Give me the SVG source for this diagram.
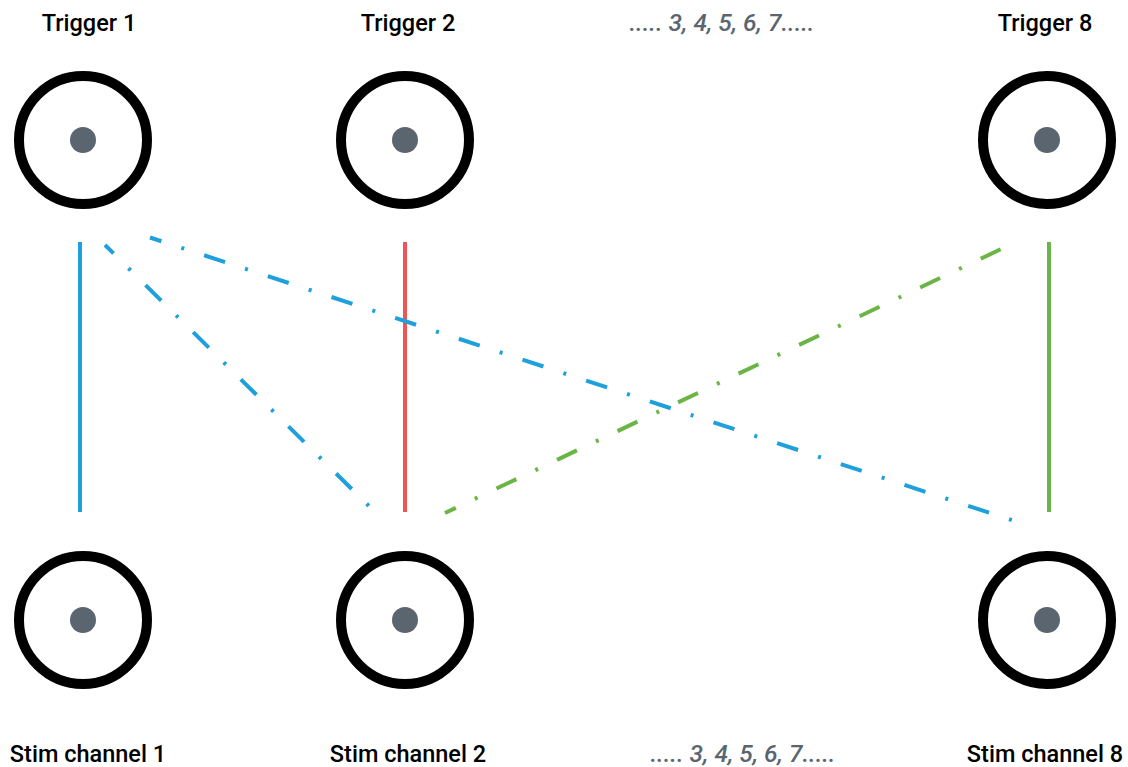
<svg xmlns="http://www.w3.org/2000/svg" width="1128" height="767" viewBox="0 0 1128 767">
<style>
.ring{fill:none;stroke:#000;stroke-width:10}
.dot{fill:#5a6570}
.lbl{font-family:Roboto,"Liberation Sans",Arial,sans-serif;font-weight:500;font-size:23.5px;fill:#000;text-anchor:middle}
.etc{font-family:Roboto,"Liberation Sans",Arial,sans-serif;font-style:italic;font-weight:500;font-size:24.5px;fill:#5a6570;text-anchor:middle}
.solid{stroke-width:4;fill:none}
.dd{stroke-width:4;fill:none;stroke-dasharray:22 21 3 21}
.blue{stroke:#1ea0dc}
.red{stroke:#ef5457}
.green{stroke:#6ab545}
</style>
<rect width="1128" height="767" fill="#fff"/>
<g id="connectors">
<line class="solid blue" x1="80" y1="242" x2="80" y2="512"/>
<line class="solid red" x1="405" y1="242" x2="405" y2="512"/>
<line class="solid green" x1="1049" y1="242" x2="1049" y2="512"/>
<line class="dd blue" x1="105" y1="245" x2="375" y2="512" style="stroke-dashoffset:10"/>
<line class="dd blue" x1="150" y1="237.5" x2="1016" y2="521.5" style="stroke-dashoffset:10"/>
<line class="dd green" x1="445" y1="513" x2="1016" y2="242" style="stroke-dashoffset:10"/>
</g>
<g id="trigger1"><circle class="ring" cx="83" cy="140" r="64"/><circle class="dot" cx="83" cy="140" r="13"/><text class="lbl" x="89" y="31">Trigger 1</text></g>
<g id="trigger2"><circle class="ring" cx="405" cy="140" r="64"/><circle class="dot" cx="405" cy="140" r="13"/><text class="lbl" x="408" y="31">Trigger 2</text></g>
<g id="trigger8"><circle class="ring" cx="1047" cy="140" r="64"/><circle class="dot" cx="1047" cy="140" r="13"/><text class="lbl" x="1045" y="31">Trigger 8</text></g>
<g id="stim1"><circle class="ring" cx="83" cy="620" r="64"/><circle class="dot" cx="83" cy="620" r="13"/><text class="lbl" x="88" y="762">Stim channel 1</text></g>
<g id="stim2"><circle class="ring" cx="405" cy="620" r="64"/><circle class="dot" cx="405" cy="620" r="13"/><text class="lbl" x="408" y="762">Stim channel 2</text></g>
<g id="stim8"><circle class="ring" cx="1047" cy="620" r="64"/><circle class="dot" cx="1047" cy="620" r="13"/><text class="lbl" x="1045" y="762">Stim channel 8</text></g>
<text class="etc" x="722" y="31">..... 3, 4, 5, 6, 7.....</text>
<text class="etc" x="743" y="762">..... 3, 4, 5, 6, 7.....</text>
</svg>
